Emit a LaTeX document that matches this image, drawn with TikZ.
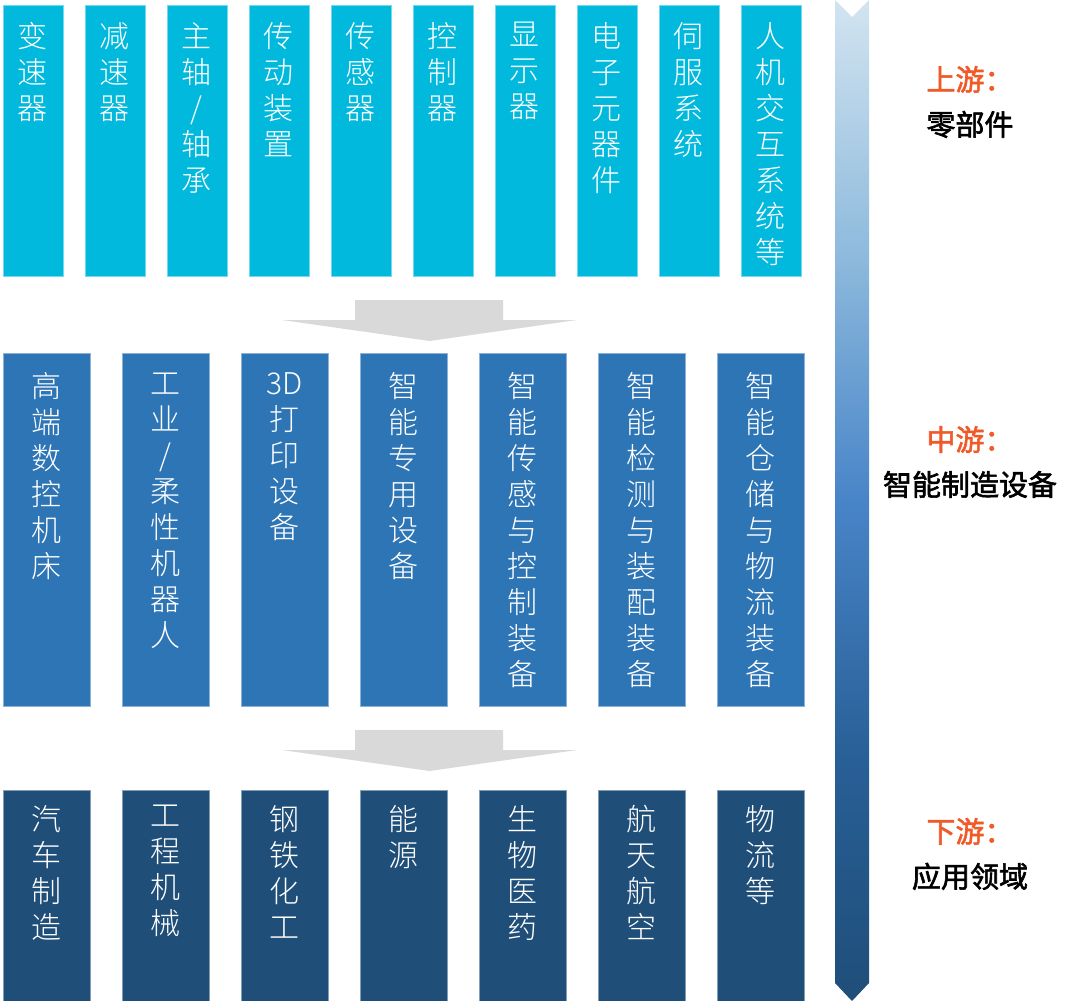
\documentclass[tikz,border=0pt]{standalone}
\usepackage{fontspec}
\usepackage{xcolor}
\usetikzlibrary{positioning}
\IfFontExistsTF{Noto Sans CJK SC Light}
  {\newfontfamily\boxfont{Noto Sans CJK SC Light}}
  {\newfontfamily\boxfont{Noto Sans CJK SC}}
\newfontfamily\tagfont[AutoFakeBold=2]{Noto Sans CJK SC}
\definecolor{upcyan}{RGB}{0,185,220}
\definecolor{midblue}{RGB}{46,117,182}
\definecolor{lowblue}{RGB}{31,78,121}
\definecolor{flowgrey}{RGB}{217,217,217}
\definecolor{tagorange}{RGB}{240,90,40}
\definecolor{bartop}{RGB}{210,228,240}
\definecolor{barlight}{RGB}{140,185,220}
\definecolor{barmid}{RGB}{72,132,200}
\definecolor{bardeep}{RGB}{40,95,150}
\pgfdeclareverticalshading{streambar}{50bp}{color(0bp)=(lowblue); color(25bp)=(lowblue); color(37bp)=(bardeep); color(50bp)=(barmid); color(62bp)=(barlight); color(75bp)=(bartop); color(100bp)=(bartop)}
\tikzstyle{upbox} = [rectangle, minimum width=60pt, minimum height=271pt, inner sep=0pt, fill=upcyan, draw=upcyan!55!white, line width=0.6pt]
\tikzstyle{midbox} = [rectangle, minimum width=87pt, minimum height=353pt, inner sep=0pt, fill=midblue, draw=midblue!55!white, line width=0.6pt]
\tikzstyle{lowbox} = [rectangle, minimum width=87pt, minimum height=211pt, inner sep=0pt, fill=lowblue, draw=lowblue!55!white, line width=0.6pt]
\tikzstyle{boxtext} = [text=white, align=center, inner sep=0pt, font=\boxfont\fontsize{30}{36}\selectfont]
\tikzstyle{tag} = [align=center, inner sep=0pt, font=\tagfont\bfseries\fontsize{29}{45}\selectfont]

\begin{document}
\begin{tikzpicture}[x=1pt, y=-1pt]
  \useasboundingbox (0,0) rectangle (1080,1001);
  % right side: up/mid/down stream bar
  \shade[shading=streambar]
    (835,0) -- (852,17) -- (869,0) -- (869,983) -- (852,1001) -- (835,983) -- cycle;
  % upstream parts
  \node (u1)[upbox, anchor=north west] at (2.5,5) {};
  \node (u2)[upbox, right=21.4pt of u1] {};
  \node (u3)[upbox, right=21.4pt of u2] {};
  \node (u4)[upbox, right=21.4pt of u3] {};
  \node (u5)[upbox, right=21.4pt of u4] {};
  \node (u6)[upbox, right=21.4pt of u5] {};
  \node (u7)[upbox, right=21.4pt of u6] {};
  \node (u8)[upbox, right=21.4pt of u7] {};
  \node (u9)[upbox, right=21.4pt of u8] {};
  \node (u10)[upbox, right=21.4pt of u9] {};
  \node (u1t)[boxtext, below=17pt of u1.north] {变\\速\\器};
  \node (u2t)[boxtext, below=17pt of u2.north] {减\\速\\器};
  \node (u3t)[boxtext, below=17pt of u3.north] {主\\轴\\/\\轴\\承};
  \node (u4t)[boxtext, below=17pt of u4.north] {传\\动\\装\\置};
  \node (u5t)[boxtext, below=17pt of u5.north] {传\\感\\器};
  \node (u6t)[boxtext, below=17pt of u6.north] {控\\制\\器};
  \node (u7t)[boxtext, below=17pt of u7.north] {显\\示\\器};
  \node (u8t)[boxtext, below=17pt of u8.north] {电\\子\\元\\器\\件};
  \node (u9t)[boxtext, below=17pt of u9.north] {伺\\服\\系\\统};
  \node (u10t)[boxtext, below=17pt of u10.north] {人\\机\\交\\互\\系\\统\\等};
  \fill[flowgrey] (355,300) -- (503,300) -- (503,320) -- (577,320) -- (429.5,341) -- (282,320) -- (355,320) -- cycle;
  % midstream equipment
  \node (m1)[midbox, anchor=north west] at (2.5,352.5) {};
  \node (m2)[midbox, right=31.4pt of m1] {};
  \node (m3)[midbox, right=31.4pt of m2] {};
  \node (m4)[midbox, right=31.4pt of m3] {};
  \node (m5)[midbox, right=31.4pt of m4] {};
  \node (m6)[midbox, right=31.4pt of m5] {};
  \node (m7)[midbox, right=31.4pt of m6] {};
  \node (m1t)[boxtext, below=20pt of m1.north] {高\\端\\数\\控\\机\\床};
  \node (m2t)[boxtext, below=20pt of m2.north] {工\\业\\/\\柔\\性\\机\\器\\人};
  \node (m3t)[boxtext, below=20pt of m3.north] {3D\\打\\印\\设\\备};
  \node (m4t)[boxtext, below=20pt of m4.north] {智\\能\\专\\用\\设\\备};
  \node (m5t)[boxtext, below=20pt of m5.north] {智\\能\\传\\感\\与\\控\\制\\装\\备};
  \node (m6t)[boxtext, below=20pt of m6.north] {智\\能\\检\\测\\与\\装\\配\\装\\备};
  \node (m7t)[boxtext, below=20pt of m7.north] {智\\能\\仓\\储\\与\\物\\流\\装\\备};
  \fill[flowgrey] (355,730) -- (503,730) -- (503,750) -- (577,750) -- (429.5,771) -- (282,750) -- (355,750) -- cycle;
  % downstream fields
  \node (d1)[lowbox, anchor=north west] at (2.5,790) {};
  \node (d2)[lowbox, right=31.4pt of d1] {};
  \node (d3)[lowbox, right=31.4pt of d2] {};
  \node (d4)[lowbox, right=31.4pt of d3] {};
  \node (d5)[lowbox, right=31.4pt of d4] {};
  \node (d6)[lowbox, right=31.4pt of d5] {};
  \node (d7)[lowbox, right=31.4pt of d6] {};
  \node (d1t)[boxtext, below=15pt of d1.north] {汽\\车\\制\\造};
  \node (d2t)[boxtext, below=15pt of d2.north] {工\\程\\机\\械};
  \node (d3t)[boxtext, below=15pt of d3.north] {钢\\铁\\化\\工};
  \node (d4t)[boxtext, below=15pt of d4.north] {能\\源};
  \node (d5t)[boxtext, below=15pt of d5.north] {生\\物\\医\\药};
  \node (d6t)[boxtext, below=15pt of d6.north] {航\\天\\航\\空};
  \node (d7t)[boxtext, below=15pt of d7.north] {物\\流\\等};
  % stream tags
  \node (upt)[tag] at (970,102) {\textcolor{tagorange}{上游：}\\零部件};
  \node (midt)[tag] at (970,462) {\textcolor{tagorange}{中游：}\\智能制造设备};
  \node (lowt)[tag] at (970,854) {\textcolor{tagorange}{下游：}\\应用领域};
\end{tikzpicture}
\end{document}
